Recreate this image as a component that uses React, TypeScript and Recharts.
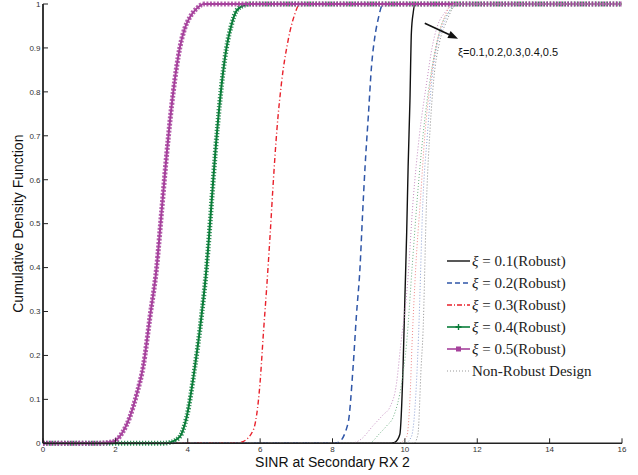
import React from 'react';
import { LineChart, Line, XAxis, YAxis, ReferenceLine } from 'recharts';

// ---- axis ticks ----
const xTicks = [0, 2, 4, 6, 8, 10, 12, 14, 16];
const yTicks = [0, 0.1, 0.2, 0.3, 0.4, 0.5, 0.6, 0.7, 0.8, 0.9, 1];

// ---- robust design CDFs ----
const robust01X = [0, 9.6, 9.72, 9.86, 9.95, 10.0, 10.05, 10.09, 10.14, 10.18, 10.23, 10.28, 16];
const robust01Y = [0, 0, 0.002, 0.02, 0.175, 0.33, 0.48, 0.63, 0.78, 0.935, 0.98, 1, 1];

const robust02X = [0, 8.0, 8.16, 8.43, 8.57, 8.66, 8.76, 8.83, 8.9, 8.99, 9.08, 9.17, 9.26, 9.4, 16];
const robust02Y = [0, 0, 0.002, 0.046, 0.175, 0.29, 0.4, 0.52, 0.63, 0.745, 0.86, 0.925, 0.965, 1, 1];

const robust03X = [0, 5.3, 5.5, 5.81, 6.0, 6.09, 6.19, 6.28, 6.36, 6.46, 6.59, 6.78, 6.95, 7.1, 16];
const robust03Y = [0, 0, 0.003, 0.03, 0.14, 0.25, 0.365, 0.48, 0.59, 0.71, 0.82, 0.92, 0.975, 1, 1];

const robust04X = [0, 3.3, 3.51, 3.78, 3.97, 4.2, 4.38, 4.52, 4.66, 4.76, 4.89, 5.07, 5.2, 5.35, 5.55, 5.75, 16];
const robust04Y = [0, 0, 0.002, 0.015, 0.06, 0.175, 0.29, 0.4, 0.55, 0.66, 0.78, 0.9, 0.95, 0.985, 0.997, 1, 1];

const robust05X = [0, 1.5, 1.94, 2.2, 2.4, 2.6, 2.77, 2.96, 3.14, 3.28, 3.42, 3.6, 3.78, 3.92, 4.06, 4.25, 4.45, 16];
const robust05Y = [0, 0, 0.004, 0.025, 0.06, 0.115, 0.175, 0.29, 0.4, 0.53, 0.66, 0.8, 0.9, 0.945, 0.97, 0.99, 1, 1];

// ---- non-robust design CDFs ----
const nonRobust05X = [0, 8.5, 8.8, 9.12, 9.4, 9.59, 9.77, 9.88, 10.07, 10.23, 10.4, 10.6, 10.75, 10.9, 11.1, 11.4, 16];
const nonRobust05Y = [0, 0, 0.01, 0.04, 0.065, 0.083, 0.137, 0.22, 0.36, 0.555, 0.7, 0.82, 0.9, 0.95, 0.98, 1, 1];

const nonRobust04X = [0, 9.0, 9.31, 9.5, 9.68, 9.91, 10.05, 10.2, 10.34, 10.5, 10.7, 10.85, 11.0, 11.2, 11.5, 16];
const nonRobust04Y = [0, 0, 0.023, 0.04, 0.06, 0.137, 0.23, 0.4, 0.555, 0.7, 0.83, 0.9, 0.95, 0.98, 1, 1];

const nonRobust03X = [0, 9.8, 10.05, 10.14, 10.2, 10.3, 10.43, 10.55, 10.72, 10.88, 11.05, 11.35, 16];
const nonRobust03Y = [0, 0, 0.015, 0.1, 0.23, 0.4, 0.555, 0.7, 0.83, 0.91, 0.96, 1, 1];

const nonRobust02X = [0, 10.0, 10.18, 10.32, 10.38, 10.5, 10.62, 10.75, 10.9, 11.1, 11.4, 16];
const nonRobust02Y = [0, 0, 0.015, 0.137, 0.25, 0.555, 0.7, 0.83, 0.91, 0.96, 1, 1];

const nonRobust01X = [0, 10.25, 10.36, 10.45, 10.5, 10.6, 10.7, 10.8, 10.95, 11.15, 11.45, 16];
const nonRobust01Y = [0, 0, 0.02, 0.175, 0.25, 0.555, 0.72, 0.83, 0.91, 0.96, 1, 1];

const legendLabels = ['0.1', '0.2', '0.3', '0.4', '0.5'];
const annotationText = 'ξ=0.1,0.2,0.3,0.4,0.5';

const toData = (xs: number[], ys: number[]) => xs.map((x, i) => ({ x, y: ys[i] }));

const C_BLACK = '#111111';
const C_BLUE = '#2f56a8';
const C_RED = '#e8202a';
const C_GREEN = '#0b7d3a';
const C_PURPLE = '#a6419c';

const SANS = 'Arial, "Liberation Sans", Helvetica, sans-serif';
const SERIF = '"Liberation Serif", "DejaVu Serif", serif';

const ArrowShape = (props: any) => {
  const { x1, y1, x2, y2 } = props;
  const dx = x2 - x1;
  const dy = y2 - y1;
  const len = Math.sqrt(dx * dx + dy * dy);
  const ux = dx / len;
  const uy = dy / len;
  const hl = 10;
  const hw = 3.8;
  const bx = x2 - ux * hl;
  const by = y2 - uy * hl;
  const p1 = `${x2},${y2}`;
  const p2 = `${bx - uy * hw},${by + ux * hw}`;
  const p3 = `${bx + uy * hw},${by - ux * hw}`;
  return (
    <g>
      <line x1={x1} y1={y1} x2={bx} y2={by} stroke="#111" strokeWidth={1.6} />
      <polygon points={`${p1} ${p2} ${p3}`} fill="#111" />
      <text x={x2} y={y2 + 17.5} fontFamily={SANS} fontSize={11} fill="#111">
        {annotationText}
      </text>
    </g>
  );
};

const LegendSample = ({ kind }: { kind: string }) => {
  const common = { x1: 1, y1: 6, x2: 24, y2: 6 };
  if (kind === 'r01') return <line {...common} stroke={C_BLACK} strokeWidth={1.4} />;
  if (kind === 'r02') return <line {...common} stroke={C_BLUE} strokeWidth={1.4} strokeDasharray="5 3" />;
  if (kind === 'r03') return <line {...common} stroke={C_RED} strokeWidth={1.4} strokeDasharray="5 2 1 2" />;
  if (kind === 'r04')
    return (
      <g>
        <line {...common} stroke={C_GREEN} strokeWidth={1.6} />
        <line x1={12.5} y1={3} x2={12.5} y2={9} stroke={C_GREEN} strokeWidth={1.4} />
        <line x1={9.5} y1={6} x2={15.5} y2={6} stroke={C_GREEN} strokeWidth={1.8} />
      </g>
    );
  if (kind === 'r05')
    return (
      <g>
        <line {...common} stroke={C_PURPLE} strokeWidth={1.6} />
        <rect x={10} y={3.5} width={5} height={5} fill={C_PURPLE} />
      </g>
    );
  return <line {...common} stroke="#999" strokeWidth={1} strokeDasharray="1 2" />;
};

const LegendBox = () => {
  const kinds = ['r01', 'r02', 'r03', 'r04', 'r05'];
  return (
    <div
      style={{
        position: 'absolute',
        left: 446,
        top: 250,
        fontFamily: SERIF,
        fontSize: 15,
        color: '#222',
        lineHeight: '22px',
      }}
    >
      {kinds.map((k, i) => (
        <div key={k} style={{ display: 'flex', alignItems: 'center', height: 22 }}>
          <svg width={26} height={12} style={{ display: 'block' }}>
            <LegendSample kind={k} />
          </svg>
          <span style={{ whiteSpace: 'nowrap' }}>
            <i>ξ</i> = {legendLabels[i]}(Robust)
          </span>
        </div>
      ))}
      <div style={{ display: 'flex', alignItems: 'center', height: 22 }}>
        <svg width={26} height={12} style={{ display: 'block' }}>
          <LegendSample kind="nr" />
        </svg>
        <span style={{ whiteSpace: 'nowrap' }}>Non-Robust Design</span>
      </div>
    </div>
  );
};

const tickStyle = { fontSize: 8, fill: '#333', fontFamily: SANS };

export default function App() {
  return (
    <div style={{ position: 'absolute', left: 0, top: 0, width: 638, height: 475, background: '#fff' }}>
      <LineChart width={638} height={475} margin={{ top: 4, right: 16, bottom: 11.7, left: 13 }}>
        <XAxis
          xAxisId="b"
          dataKey="x"
          type="number"
          domain={[0, 16]}
          ticks={xTicks}
          allowDataOverflow
          height={20}
          tickSize={-5}
          tickMargin={8}
          tick={tickStyle}
          axisLine={{ stroke: '#222', strokeWidth: 1.5 }}
          tickLine={{ stroke: '#222', strokeWidth: 1 }}
          label={{
            content: (p: any) => {
              const vb = p.viewBox;
              return (
                <text x={vb.x + vb.width / 2} y={vb.y + 23.4} textAnchor="middle" fontFamily={SANS} fontSize={14} fill="#111">
                  SINR at Secondary RX 2
                </text>
              );
            },
          }}
        />
        <XAxis
          xAxisId="t"
          orientation="top"
          dataKey="x"
          type="number"
          domain={[0, 16]}
          ticks={xTicks}
          height={0}
          tickSize={-5}
          tick={false}
          axisLine={{ stroke: '#222', strokeWidth: 1.2 }}
          tickLine={{ stroke: '#222', strokeWidth: 1 }}
        />
        <YAxis
          yAxisId="l"
          type="number"
          domain={[0, 1]}
          ticks={yTicks}
          width={30}
          tickSize={-5}
          tickMargin={7.5}
          tick={tickStyle}
          axisLine={{ stroke: '#222', strokeWidth: 1.8 }}
          tickLine={{ stroke: '#222', strokeWidth: 1 }}
          label={{
            content: (p: any) => {
              const vb = p.viewBox;
              const cx = vb.x + 10;
              const cy = vb.y + vb.height / 2;
              return (
                <text transform={`translate(${cx}, ${cy}) rotate(-90)`} textAnchor="middle" fontFamily={SANS} fontSize={14} fill="#111">
                  Cumulative Density Function
                </text>
              );
            },
          }}
        />
        <YAxis
          yAxisId="r"
          orientation="right"
          type="number"
          domain={[0, 1]}
          ticks={yTicks}
          width={0}
          tickSize={-5}
          tick={false}
          axisLine={{ stroke: '#222', strokeWidth: 1.2 }}
          tickLine={{ stroke: '#222', strokeWidth: 1 }}
        />

        {/* Robust designs */}
        <Line xAxisId="b" yAxisId="l" data={toData(robust01X, robust01Y)} dataKey="y" type="monotone" stroke={C_BLACK} strokeWidth={1.4} dot={false} isAnimationActive={false} />
        <Line xAxisId="b" yAxisId="l" data={toData(robust02X, robust02Y)} dataKey="y" type="monotone" stroke={C_BLUE} strokeWidth={1.5} strokeDasharray="6 4" dot={false} isAnimationActive={false} />
        <Line xAxisId="b" yAxisId="l" data={toData(robust03X, robust03Y)} dataKey="y" type="monotone" stroke={C_RED} strokeWidth={1.4} strokeDasharray="5 2.5 1 2.5" dot={false} isAnimationActive={false} />
        <Line xAxisId="b" yAxisId="l" data={toData(robust04X, robust04Y)} dataKey="y" type="monotone" stroke={C_GREEN} strokeWidth={5} strokeDasharray="1.2 1.8" strokeOpacity={0.85} dot={false} isAnimationActive={false} />
        <Line xAxisId="b" yAxisId="l" data={toData(robust04X, robust04Y)} dataKey="y" type="monotone" stroke={C_GREEN} strokeWidth={2} dot={false} isAnimationActive={false} />
        <Line xAxisId="b" yAxisId="l" data={toData(robust05X, robust05Y)} dataKey="y" type="monotone" stroke={C_PURPLE} strokeWidth={5} strokeDasharray="2 1.5" strokeOpacity={0.85} dot={false} isAnimationActive={false} />
        <Line xAxisId="b" yAxisId="l" data={toData(robust05X, robust05Y)} dataKey="y" type="monotone" stroke={C_PURPLE} strokeWidth={2} dot={false} isAnimationActive={false} />

        {/* Non-robust designs */}
        <Line xAxisId="b" yAxisId="l" data={toData(nonRobust05X, nonRobust05Y)} dataKey="y" type="monotone" stroke="#c58cc0" strokeWidth={1} strokeDasharray="1 2" dot={false} isAnimationActive={false} />
        <Line xAxisId="b" yAxisId="l" data={toData(nonRobust04X, nonRobust04Y)} dataKey="y" type="monotone" stroke="#6fb184" strokeWidth={1} strokeDasharray="1 2" dot={false} isAnimationActive={false} />
        <Line xAxisId="b" yAxisId="l" data={toData(nonRobust03X, nonRobust03Y)} dataKey="y" type="monotone" stroke="#ef8a8a" strokeWidth={1} strokeDasharray="1 2" dot={false} isAnimationActive={false} />
        <Line xAxisId="b" yAxisId="l" data={toData(nonRobust02X, nonRobust02Y)} dataKey="y" type="monotone" stroke="#8ea2d6" strokeWidth={1} strokeDasharray="1 2" dot={false} isAnimationActive={false} />
        <Line xAxisId="b" yAxisId="l" data={toData(nonRobust01X, nonRobust01Y)} dataKey="y" type="monotone" stroke="#8a8a8a" strokeWidth={1} strokeDasharray="1 2" dot={false} isAnimationActive={false} />

        <ReferenceLine
          xAxisId="b"
          yAxisId="l"
          segment={[{ x: 10.55, y: 0.956 }, { x: 11.47, y: 0.921 }]}
          shape={ArrowShape}
          ifOverflow="visible"
        />
      </LineChart>
      <LegendBox />
    </div>
  );
}
